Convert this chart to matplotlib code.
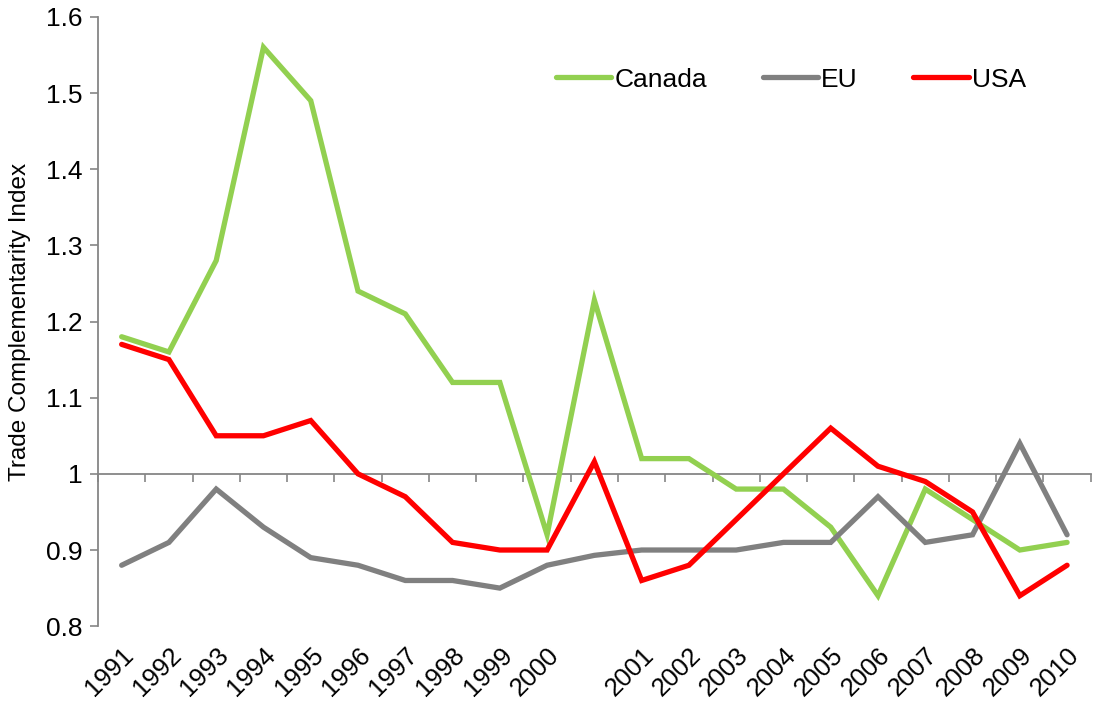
import numpy as np
import matplotlib
matplotlib.use("Agg")
import matplotlib.pyplot as plt

plt.rcParams['font.family'] = ['Liberation Sans', 'DejaVu Sans']

years = ["1991", "1992", "1993", "1994", "1995", "1996", "1997", "1998", "1999", "2000", "",
         "2001", "2002", "2003", "2004", "2005", "2006", "2007", "2008", "2009", "2010"]
canada = [1.18, 1.16, 1.28, 1.56, 1.49, 1.24, 1.21, 1.12, 1.12, 0.92, 1.228,
          1.02, 1.02, 0.98, 0.98, 0.93, 0.84, 0.98, 0.94, 0.90, 0.91]
eu = [0.88, 0.91, 0.98, 0.93, 0.89, 0.88, 0.86, 0.86, 0.85, 0.88, 0.893,
      0.90, 0.90, 0.90, 0.91, 0.91, 0.97, 0.91, 0.92, 1.04, 0.92]
usa = [1.17, 1.15, 1.05, 1.05, 1.07, 1.00, 0.97, 0.91, 0.90, 0.90, 1.016,
       0.86, 0.88, 0.94, 1.00, 1.06, 1.01, 0.99, 0.95, 0.84, 0.88]

yticks = [0.8, 0.9, 1.0, 1.1, 1.2, 1.3, 1.4, 1.5, 1.6]
ytick_labels = ["0.8", "0.9", "1", "1.1", "1.2", "1.3", "1.4", "1.5", "1.6"]

fig = plt.figure(figsize=(10.94, 7.02), dpi=100)
ax = fig.add_axes([0.0896, 0.108, 0.9074, 0.868])

x = np.arange(len(years))
ax.plot(x, canada, color="#92D050", lw=3.8, label="Canada", solid_capstyle="round", solid_joinstyle="miter")
ax.plot(x, eu, color="#808080", lw=3.8, label="EU", solid_capstyle="round", solid_joinstyle="miter")
ax.plot(x, usa, color="#FF0000", lw=3.8, label="USA", solid_capstyle="round", solid_joinstyle="miter")

ax.set_xlim(-0.5, len(years) - 0.5)
ax.set_ylim(0.8, 1.6)
ax.set_yticks(yticks)
ax.set_yticklabels(ytick_labels, fontsize=19)
ax.tick_params(axis="y", direction="out", length=6, width=1.2, color="#868686", pad=5)

# year labels at the bottom, no ticks
ax.set_xticks(x)
ax.set_xticklabels(years, rotation=45, ha="right", va="top", rotation_mode="anchor", fontsize=18.5)
ax.tick_params(axis="x", length=0, pad=12)

for s in ["top", "right", "bottom"]:
    ax.spines[s].set_visible(False)
ax.spines["left"].set_color("#868686")
ax.spines["left"].set_linewidth(1.3)

# category axis crossing at 1
cross = ax.secondary_xaxis((1.0 - 0.8) / (1.6 - 0.8))
cross.set_xticks(np.arange(len(years) + 1) - 0.5)
cross.set_xticklabels([])
cross.tick_params(direction="out", length=6, width=1.2, color="#868686")
cross.spines["bottom"].set_color("#868686")
cross.spines["bottom"].set_linewidth(1.3)

ax.set_ylabel("Trade Complementarity Index", fontsize=17.5, labelpad=11)

ax.legend(loc="center", bbox_to_anchor=(0.698, 0.897), ncol=3, frameon=False,
          fontsize=19, handlelength=2.1, columnspacing=2.1, handletextpad=0.12)

fig.savefig("out.png", dpi=100)
